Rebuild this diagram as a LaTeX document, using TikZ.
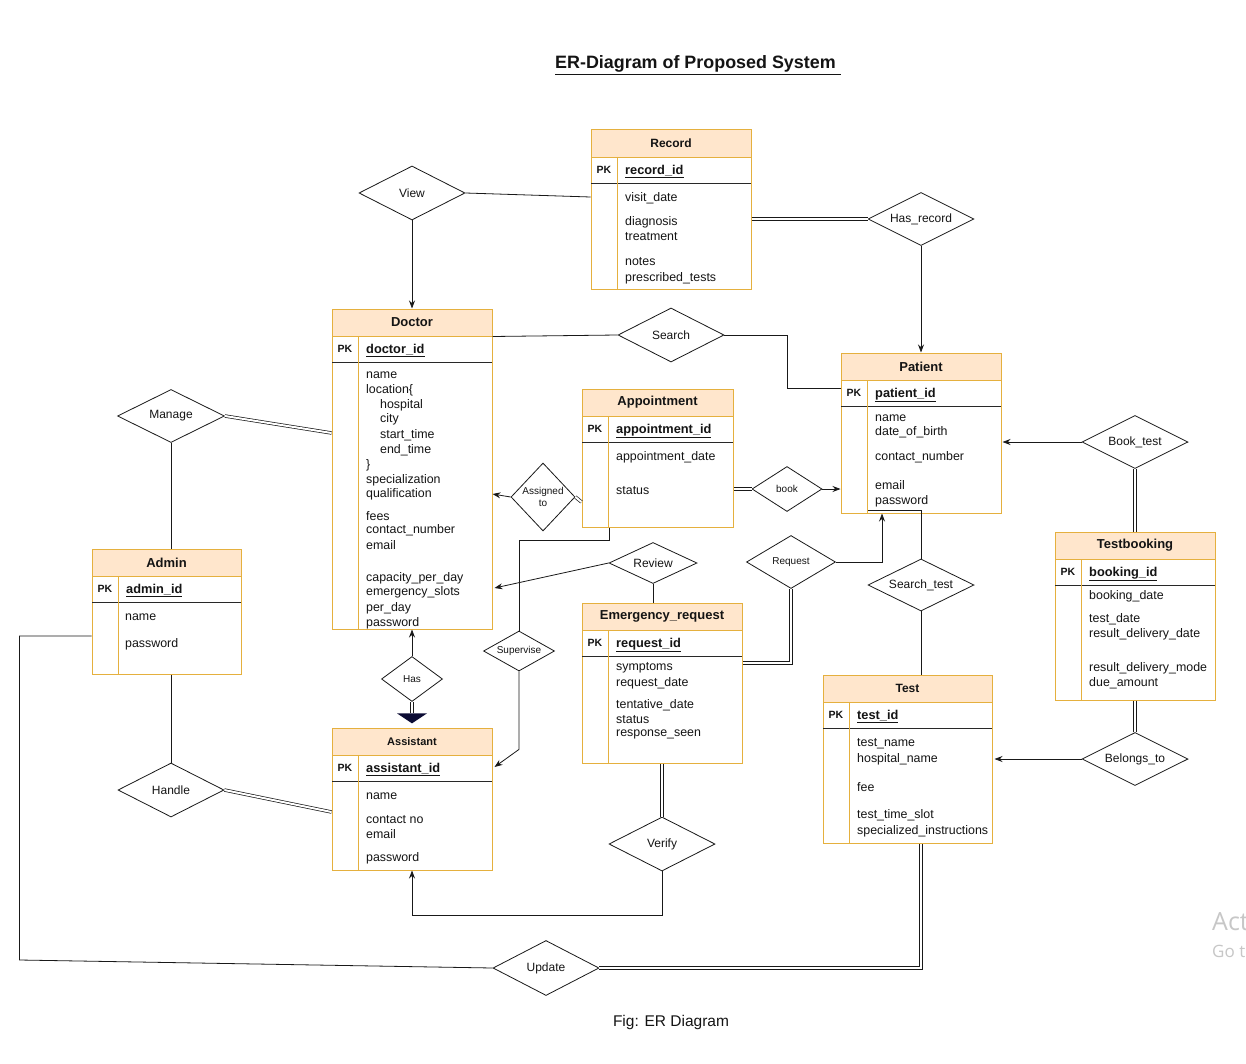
\documentclass[tikz,border=0pt]{standalone}
\usepackage{fontspec}
\setmainfont{Liberation Sans}
\newfontfamily\wmfont{Open Sans}
\usetikzlibrary{shapes.geometric,fit,arrows.meta,calc}
\definecolor{entline}{RGB}{229,176,62}
\definecolor{hdrfill}{RGB}{255,230,204}
\definecolor{linec}{RGB}{25,25,25}
\definecolor{keyline}{RGB}{40,40,40}
\definecolor{navytri}{RGB}{12,12,52}
\definecolor{txt}{RGB}{20,20,20}

\newcommand\erent[8]{%
  \fill[hdrfill] (#2,#3) rectangle (#4,{#3+27});
  \node[fit={(#2,#3) (#4,#5)}, inner sep=0pt, draw=entline, line width=1pt] (#1) {};
  \draw[entline, line width=0.9pt] (#2,{#3+27}) -- (#4,{#3+27});
  \draw[keyline, line width=0.9pt] (#2,{#3+53}) -- (#4,{#3+53});
  \draw[entline, line width=0.9pt] ({#2+26.5},{#3+27}) -- ({#2+26.5},#5);
  \node[font=\bfseries\fontsize{#6}{#6}\selectfont, text=txt] (#1-t) at ({(#2+#4)/2},{#3+13.5}) {#7};
  \node[pklbl] (#1-pk) at ({#2+13},{#3+40}) {PK};
  \node[keyname] (#1-k) at ({#2+34},{#3+44.5}) {\underline{#8}};
}
\newcommand\eattr[4]{\node[attr] (#1) at (#2,{#3+0.8}) {#4};}

\begin{document}
\begin{tikzpicture}[x=1pt,y=-1pt,
  attr/.style={anchor=west, inner sep=0pt, text=txt, font=\fontsize{12.4}{14}\selectfont},
  pklbl/.style={inner sep=0pt, text=txt, font=\bfseries\fontsize{10.5}{12}\selectfont},
  keyname/.style={anchor=base west, inner sep=0pt, text=txt, font=\bfseries\fontsize{12.8}{14}\selectfont},
  rel/.style={diamond, draw=linec, line width=0.8pt, inner sep=0pt, aspect=1.5},
  rellbl/.style={text=txt, font=\fontsize{12}{13}\selectfont, inner sep=0pt},
  rellbls/.style={text=txt, font=\fontsize{10}{12}\selectfont, inner sep=0pt},
  conn/.style={draw=linec, line width=0.8pt},
  arr/.style={conn, -{Stealth[length=8pt,width=6pt]}},
  dbl/.style={draw=linec, line width=0.7pt, double=white, double distance=2pt},
]
\useasboundingbox (0,0) rectangle (1246,1064);
\fill[white] (0,0) rectangle (1246,1064);

% title and caption
\node[anchor=west, inner sep=0pt, text=txt, font=\bfseries\fontsize{17.9}{20}\selectfont] (title) at (555,65) {\underline{ER-Diagram of Proposed System\ }};
\node[inner sep=0pt, text=txt, font=\fontsize{15.5}{18}\selectfont] (caption) at (671,1022) {Fig: ER Diagram};
\node[anchor=west, inner sep=0pt, text=black!22, font=\wmfont\fontsize{25}{28}\selectfont] (wm1) at (1212,922) {Act};
\node[anchor=west, inner sep=0pt, text=black!22, font=\wmfont\fontsize{17}{20}\selectfont] (wm2) at (1212,951) {Go t};

% ---------- entities ----------
\erent{record}{591}{130}{751}{290}{12}{Record}{record\_id}
\eattr{rec1}{625}{197}{visit\_date}
\eattr{rec2}{625}{221}{diagnosis}
\eattr{rec3}{625}{236}{treatment}
\eattr{rec4}{625}{261}{notes}
\eattr{rec5}{625}{277}{prescribed\_tests}

\erent{doctor}{332}{309}{492}{629}{13}{Doctor}{doctor\_id}
\eattr{doc1}{366}{374}{name}
\eattr{doc2}{366}{389}{location\{}
\eattr{doc3}{380}{404}{hospital}
\eattr{doc4}{380}{418}{city}
\eattr{doc5}{380}{434}{start\_time}
\eattr{doc6}{380}{449}{end\_time}
\eattr{doc7}{366}{464}{\}}
\eattr{doc8}{366}{479}{specialization}
\eattr{doc9}{366}{493}{qualification}
\eattr{doc10}{366}{515}{fees}
\eattr{doc11}{366}{529}{contact\_number}
\eattr{doc12}{366}{544}{email}
\eattr{doc13}{366}{577}{capacity\_per\_day}
\eattr{doc14}{366}{591}{emergency\_slots}
\eattr{doc15}{366}{607}{per\_day}
\eattr{doc16}{366}{622}{password}

\erent{patient}{841}{353}{1001}{513}{13}{Patient}{patient\_id}
\eattr{pat1}{875}{417}{name}
\eattr{pat2}{875}{431}{date\_of\_birth}
\eattr{pat3}{875}{456}{contact\_number}
\eattr{pat4}{875}{484}{email}
\eattr{pat5}{875}{500}{password}

\erent{appointment}{582}{389}{733}{527}{13}{Appointment}{appointment\_id}
\eattr{app1}{616}{456}{appointment\_date}
\eattr{app2}{616}{490}{status}

\erent{admin}{92}{549}{241}{674}{13}{Admin}{admin\_id}
\eattr{adm1}{125}{616}{name}
\eattr{adm2}{125}{643}{password}

\erent{assistant}{332}{728}{492}{870}{11}{Assistant}{assistant\_id}
\eattr{ass1}{366}{795}{name}
\eattr{ass2}{366}{819}{contact no}
\eattr{ass3}{366}{833}{email}
\eattr{ass4}{366}{857}{password}

\erent{emergency}{582}{603}{742}{763}{13}{Emergency\_request}{request\_id}
\eattr{em1}{616}{667}{symptoms}
\eattr{em2}{616}{682}{request\_date}
\eattr{em3}{616}{704}{tentative\_date}
\eattr{em4}{616}{719}{status}
\eattr{em5}{616}{734}{response\_seen}

\erent{test}{823}{675}{992}{843}{12}{Test}{test\_id}
\eattr{tst1}{857}{743}{test\_name}
\eattr{tst2}{857}{758}{hospital\_name}
\eattr{tst3}{857}{786}{fee}
\eattr{tst4}{857}{814}{test\_time\_slot}
\eattr{tst5}{857}{830}{specialized\_instructions}

\erent{testbooking}{1055}{532}{1215}{700}{13}{Testbooking}{booking\_id}
\eattr{tb1}{1089}{595}{booking\_date}
\eattr{tb2}{1089}{618}{test\_date}
\eattr{tb3}{1089}{633}{result\_delivery\_date}
\eattr{tb4}{1089}{667}{result\_delivery\_mode}
\eattr{tb5}{1089}{682}{due\_amount}

% ---------- relationships ----------
\node[rel, minimum width=106, minimum height=54, label={[rellbl]center:View}] (view) at (412,193) {};
\node[rel, minimum width=106, minimum height=53, label={[rellbl]center:Has\_record}] (hasrec) at (921,219) {};
\node[rel, minimum width=106, minimum height=54, label={[rellbl]center:Search}] (search) at (671,335) {};
\node[rel, minimum width=107, minimum height=53, label={[rellbl]center:Manage}] (manage) at (171,416) {};
\node[rel, minimum width=106, minimum height=53, label={[rellbl]center:Book\_test}] (booktest) at (1135,442) {};
\node[rel, minimum width=64, minimum height=68, label={[rellbls,align=center]center:{Assigned\\to}}] (assigned) at (543,497) {};
\node[rel, minimum width=70, minimum height=45, label={[rellbls]center:book}] (book) at (787,489) {};
\node[rel, minimum width=88, minimum height=41, label={[rellbl]center:Review}] (review) at (653,563) {};
\node[rel, minimum width=89, minimum height=53, label={[rellbls]center:Request}] (request) at (791,562) {};
\node[rel, minimum width=106, minimum height=52, label={[rellbl]center:Search\_test}] (searchtest) at (921,585) {};
\node[rel, minimum width=71, minimum height=40, label={[rellbls]center:Supervise}] (supervise) at (519,651) {};
\node[rel, minimum width=61, minimum height=45, label={[rellbls]center:Has}] (has) at (412,679) {};
\node[rel, minimum width=106, minimum height=54, label={[rellbl]center:Handle}] (handle) at (171,790) {};
\node[rel, minimum width=106, minimum height=53, label={[rellbl]center:Belongs\_to}] (belongs) at (1135,759) {};
\node[rel, minimum width=106, minimum height=54, label={[rellbl]center:Verify}] (verify) at (662,844) {};
\node[rel, minimum width=106, minimum height=55, label={[rellbl]center:Update}] (update) at (546,968) {};

% ---------- connectors ----------
\draw[conn] (view.east) -- ([yshift=13pt]record.west);
\draw[arr] (view.south) -- (doctor.north);
\draw[dbl] (record.east |- hasrec.west) -- (hasrec.west);
\draw[arr] (hasrec.south) -- (patient.north);
\draw[conn] ([yshift=-28pt]doctor.north east) -- (search.west);
\draw[conn] (search.east) -- ++(63,0) |- ([yshift=45pt]patient.west);
\draw[dbl] (manage.east) -- ([yshift=36pt]doctor.west);
\draw[conn] (manage.south) -- (manage.south |- admin.north);
\draw[conn] (admin.south -| handle.north) -- (handle.north);
\draw[dbl] (handle.east) -- ([yshift=-13pt]assistant.west);
\draw[conn] ([yshift=-24.5pt]admin.west) -- ++(-72,0) -- ++(0,324) -- (update.west);
\draw[dbl] (update.east) -| ([xshift=13.5pt]test.south);
\draw[arr] (has.north) -- (doctor.south);
\coordinate (hastip) at ($(has.south)+(0,11.5)$);
\draw[dbl] (has.south) -- (hastip);
\fill[navytri] (hastip) ++(-15,0) -- ++(30,0) -- ++(-15,10) -- cycle;
\draw[arr] (assigned.west) -- ([yshift=-25pt]doctor.east);
\draw[dbl] (assigned.east) -- ([yshift=-44pt]appointment.west);
\draw[conn] ([xshift=-48.5pt]appointment.south) -- ++(0,13) -| (supervise.north);
\draw[arr] (supervise.south) -- ++(0,78) -- ([xshift=2pt,yshift=32pt]assistant.east);
\draw[arr] (review.west) -- ([xshift=2pt,yshift=-119pt]doctor.east);
\draw[conn] (review.south) -- (review.south |- emergency.north);
\draw[dbl] (book.west) -- (appointment.east |- book.west);
\draw[arr] (book.east) -- (patient.west |- book.east);
\draw[dbl] (request.south) |- ([yshift=20pt]emergency.east);
\draw[arr] (request.east) -| ([xshift=-39pt]patient.south);
\draw[conn] (searchtest.north) -- ([yshift=3pt]patient.south) -- ([xshift=-53pt,yshift=3pt]patient.south);
\draw[conn] (searchtest.south) -- (searchtest.south |- test.north);
\draw[arr] (booktest.west) -- ([xshift=1pt]patient.east |- booktest.west);
\draw[dbl] (booktest.south) -- (booktest.south |- testbooking.north);
\draw[dbl] (testbooking.south) -- (belongs.north);
\draw[arr] (belongs.west) -- ([xshift=2pt]test.east |- belongs.west);
\draw[dbl] (emergency.south) -- (verify.north);
\draw[arr] (verify.south) -- ++(0,44) -| (assistant.south);
\end{tikzpicture}
\end{document}
